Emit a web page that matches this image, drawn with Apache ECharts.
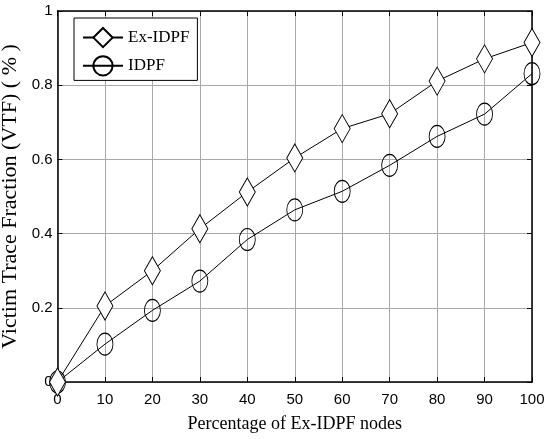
<!DOCTYPE html>
<html>
<head>
<meta charset="utf-8">
<script src="https://cdn.jsdelivr.net/npm/echarts@6/dist/echarts.min.js"></script>
<style>
html,body{margin:0;padding:0;background:#fff;}
#c{width:544px;height:439px;}
</style>
</head>
<body>
<div id="c"></div>
<script>
const xValues = [0, 10, 20, 30, 40, 50, 60, 70, 80, 90, 100];
const exIdpf = [0, 0.205, 0.30, 0.413, 0.512, 0.604, 0.683, 0.723, 0.811, 0.871, 0.915];
const idpf = [0, 0.102, 0.193, 0.272, 0.384, 0.464, 0.514, 0.584, 0.662, 0.722, 0.831];
const seriesNames = ['Ex-IDPF', 'IDPF'];
const xTitle = 'Percentage of Ex-IDPF nodes';
const yTitle = 'Victim Trace Fraction (VTF) ( % )';

const pairs = (ys) => xValues.map((x, i) => [x, ys[i]]);
const tickFont = '"Liberation Sans Narrow","Liberation Sans",Arial,sans-serif';
const serif = '"Liberation Serif","Times New Roman",serif';
const axisLineStyle = {color: '#000', width: 1.5};

const chart = echarts.init(document.getElementById('c'), null, {renderer: 'canvas'});
chart.setOption({
  backgroundColor: '#fff',
  animation: false,
  grid: {left: 57.5, right: 12, top: 11, bottom: 57, containLabel: false, outerBoundsMode: 'none'},
  legend: {
    orient: 'vertical', left: 74, top: 18,
    data: seriesNames,
    borderColor: '#000', borderWidth: 1,
    padding: [9, 8, 4, 8],
    itemGap: 7, itemWidth: 40, itemHeight: 24,
    backgroundColor: '#fff',
    textStyle: {fontFamily: serif, fontSize: 17, color: '#000'}
  },
  xAxis: [{
    type: 'value', min: 0, max: 100, interval: 10, position: 'bottom',
    name: xTitle, nameLocation: 'middle', nameGap: 33,
    nameTextStyle: {fontFamily: serif, fontSize: 18, color: '#000'},
    axisLine: {show: true, onZero: false, lineStyle: axisLineStyle},
    axisTick: {show: true, inside: true, length: 5, lineStyle: {color: '#000'}},
    axisLabel: {margin: 10, fontFamily: tickFont, fontSize: 15, color: '#000'},
    splitLine: {show: true, lineStyle: {color: '#a8a8a8', width: 1}}
  }, {
    type: 'value', min: 0, max: 100, interval: 10, position: 'top',
    axisLine: {show: true, onZero: false, lineStyle: axisLineStyle},
    axisTick: {show: true, inside: true, length: 5, lineStyle: {color: '#000'}},
    axisLabel: {show: false}, splitLine: {show: false}
  }],
  yAxis: [{
    type: 'value', min: 0, max: 1, interval: 0.2, position: 'left',
    name: yTitle, nameLocation: 'middle', nameGap: 27, nameRotate: 90,
    nameTextStyle: {fontFamily: serif, fontSize: 22, color: '#000'},
    axisLine: {show: true, onZero: false, lineStyle: axisLineStyle},
    axisTick: {show: true, inside: true, length: 5, lineStyle: {color: '#000'}},
    axisLabel: {margin: 5, fontFamily: tickFont, fontSize: 15, color: '#000'},
    splitLine: {show: true, lineStyle: {color: '#a8a8a8', width: 1}}
  }, {
    type: 'value', min: 0, max: 1, interval: 0.2, position: 'right',
    axisLine: {show: true, onZero: false, lineStyle: axisLineStyle},
    axisTick: {show: true, inside: true, length: 5, lineStyle: {color: '#000'}},
    axisLabel: {show: false}, splitLine: {show: false}
  }],
  series: [{
    name: seriesNames[1], type: 'line', data: pairs(idpf),
    symbol: 'circle', symbolSize: [16, 22], showAllSymbol: true,
    lineStyle: {color: '#000', width: 1},
    itemStyle: {color: 'rgba(255,255,255,0)', borderColor: '#000', borderWidth: 1},
    emphasis: {disabled: true}
  }, {
    name: seriesNames[0], type: 'line', data: pairs(exIdpf),
    symbol: 'diamond', symbolSize: [16, 28], showAllSymbol: true,
    lineStyle: {color: '#000', width: 1},
    itemStyle: {color: '#fff', borderColor: '#000', borderWidth: 1},
    emphasis: {disabled: true}
  }]
});
</script>
</body>
</html>
